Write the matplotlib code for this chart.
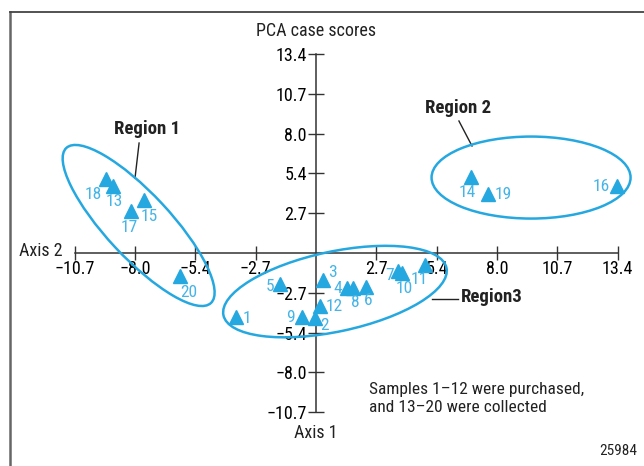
import matplotlib
matplotlib.use("Agg")
import matplotlib.pyplot as plt
from matplotlib.patches import Ellipse
from matplotlib.lines import Line2D
from matplotlib.ticker import FixedLocator, FixedFormatter
import matplotlib.transforms as mtransforms

plt.rcParams['font.family'] = ['Roboto Condensed', 'Liberation Sans', 'DejaVu Sans']

# PCA case scores (Axis 2 horizontal, Axis 1 vertical)
sampleIds = [str(i) for i in range(1, 21)]
axis2Scores = [-3.55, -0.04, 0.30, 1.36, -1.58, 2.20, 3.64, 1.65, -0.62, 3.82,
               4.84, 0.18, -8.99, 6.88, -7.63, 13.37, -8.21, -9.33, 7.62, -6.03]
axis1Scores = [-4.30, -4.39, -1.81, -2.37, -2.05, -2.26, -1.24, -2.33, -4.30, -1.31,
               -0.81, -3.54, 4.50, 5.13, 3.56, 4.50, 2.84, 4.95, 3.97, -1.55]

# label placement per sample: (dx px, dy px, ha)
labelPlace = [(7, -1, "left"), (5, -7, "left"), (5, 7, "left"), (-5, 0, "right"),
              (-6, -3, "right"), (3, -14, "center"), (-4, -4, "right"), (2, -15, "center"),
              (-7, 0, "right"), (2, -16, "center"), (-6, -14, "center"), (6, -1, "left"),
              (1, -15, "center"), (-4, -16, "center"), (5, -16, "center"), (-8, 0, "right"),
              (-2, -17, "center"), (-12, -15, "center"), (7, -1, "left"), (9, -16, "center")]

tickStep = 10.7 / 4
tickVals = [k * tickStep for k in (-4, -3, -2, -1, 1, 2, 3, 4, 5)]
xTickLabels = ["−10.7", "−8.0", "−5.4", "−2.7", "2.7", "5.4", "8.0", "10.7", "13.4"]
yTickVals = [k * tickStep for k in (-4, -3, -2, -1, 1, 2, 3, 4, 5)]
yTickLabels = ["−10.7", "−8.0", "−5.4", "−2.7", "2.7", "5.4", "8.0", "10.7", "13.4"]

# regions: centre (data), semi-axes (px), angle (deg)
regionNames = ["Region 1", "Region 2", "Region3"]
regionCentres = [(-7.87, 1.85), (9.54, 5.07), (0.84, -2.59)]
regionAxes = [(106, 32), (99.5, 41), (114, 40)]
regionAngles = [-47, 0, 12]
regionLabelPos = [(-7.50, 8.33), (6.30, 9.74), (6.43, -2.96)]
regionLeaders = [((-7.85, 7.39), (-8.03, 5.04)), ((6.34, 8.87), (6.92, 7.19)),
                 ((5.15, -3.09), (6.30, -3.09))]

markColor = "#25a8e0"
labelColor = "#45b4e6"
axisColor = "#333333"

fig = plt.figure(figsize=(6.44, 4.66), dpi=100)
ax = fig.add_axes([0, 0, 1, 1])
ax.set_xlim(-14.02, 14.55)
ax.set_ylim(-14.31, 17.00)
ax.patch.set_alpha(0)

for side in ("top", "right"):
    ax.spines[side].set_visible(False)
ax.spines["left"].set_position(("data", 0))
ax.spines["bottom"].set_position(("data", 0))
ax.spines["left"].set_bounds(yTickVals[0], yTickVals[-1])
ax.spines["bottom"].set_bounds(tickVals[0], tickVals[-1])
for side in ("left", "bottom"):
    ax.spines[side].set_color(axisColor)
    ax.spines[side].set_linewidth(1.1)

ax.xaxis.set_major_locator(FixedLocator(tickVals))
ax.xaxis.set_major_formatter(FixedFormatter(xTickLabels))
ax.yaxis.set_major_locator(FixedLocator(yTickVals))
ax.yaxis.set_major_formatter(FixedFormatter(yTickLabels))
ax.tick_params(axis="x", direction="inout", length=10, width=1.0, color=axisColor,
               labelsize=13, pad=0)
ax.tick_params(axis="y", direction="inout", length=11, width=1.0, color=axisColor,
               labelsize=13, pad=1)

ax.plot(axis2Scores, axis1Scores, linestyle="none", marker="^", markersize=10.5,
        color=markColor, zorder=5)
for sid, x, y, (dx, dy, ha) in zip(sampleIds, axis2Scores, axis1Scores, labelPlace):
    ax.annotate(sid, (x, y), xytext=(dx, dy), textcoords="offset pixels",
                ha=ha, va="center", fontsize=12.5, color=labelColor, zorder=6)

for centre, (a, b), ang in zip(regionCentres, regionAxes, regionAngles):
    trans = fig.dpi_scale_trans + mtransforms.ScaledTranslation(centre[0], centre[1], ax.transData)
    ax.add_patch(Ellipse((0, 0), 2 * a / 100, 2 * b / 100, angle=ang, transform=trans,
                         fill=False, edgecolor=markColor, linewidth=1.8, zorder=4))

for name, pos, (p0, p1) in zip(regionNames, regionLabelPos, regionLeaders):
    ax.plot([p0[0], p1[0]], [p0[1], p1[1]], color="#222222", linewidth=1.0)
    ha = "left" if name == "Region3" else "center"
    ax.text(pos[0], pos[1], name, ha=ha, va="center", fontsize=13.5,
            fontweight="bold", color="#222222")

ax.text(0, 14.9, "PCA case scores", ha="center", va="center", fontsize=13, color="#222222")
ax.annotate("Axis 2", (tickVals[0], 0), xytext=(-12, 2), textcoords="offset pixels",
            ha="right", va="center", fontsize=13, color="#222222")
ax.text(0, -12.1, "Axis 1", ha="center", va="center", fontsize=13, color="#222222")
ax.text(2.35, -9.8, "Samples 1–12 were purchased,\nand 13–20 were collected", ha="left",
        va="center", fontsize=12.5, color="#222222", linespacing=1.25)
fig.text(0.99, 1 - 451 / 466, "25984", ha="right", va="center", fontsize=11, color="#222222")

fig.add_artist(Line2D([10 / 644, 10 / 644], [0, 1 - 12 / 466], transform=fig.transFigure,
                      color="#666666", linewidth=1.8))
fig.add_artist(Line2D([10 / 644, 1], [1 - 12 / 466, 1 - 12 / 466], transform=fig.transFigure,
                      color="#444444", linewidth=1.3))

fig.savefig("out.png", dpi=100)
